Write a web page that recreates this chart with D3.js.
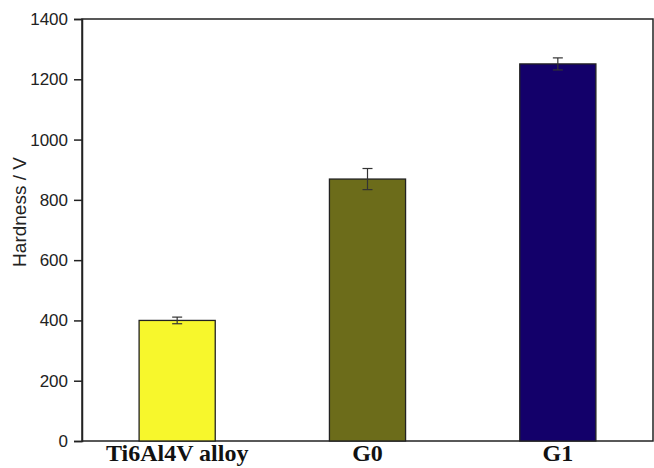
<!DOCTYPE html>
<html><head><meta charset="utf-8">
<script src="https://cdn.jsdelivr.net/npm/d3@7"></script>
<style>html,body{margin:0;padding:0;background:#fff;}</style>
</head><body>
<svg id="c" width="654" height="468"></svg>
<script>
const categories = ["Ti6Al4V alloy", "G0", "G1"];
const hardness = [400, 869, 1251];
const errors = [11, 35, 20];
const colors = ["#f7f72c", "#6c6c1a", "#13006a"];
const yTicks = [0, 200, 400, 600, 800, 1000, 1200, 1400];

const svg = d3.select("#c");
const m = {left: 82, right: 653, top: 19, bottom: 441};
const x = d3.scaleBand().domain(categories).range([m.left, m.right]).paddingInner(0.6).paddingOuter(0.3);
const y = d3.scaleLinear().domain([0, 1400]).range([m.bottom, m.top]);

// frame
svg.append("rect").attr("x", m.left).attr("y", m.top).attr("width", m.right - m.left).attr("height", m.bottom - m.top)
  .attr("fill", "none").attr("stroke", "#222").attr("stroke-width", 1.5);

// bars
svg.selectAll("rect.bar").data(categories).enter().append("rect").attr("class", "bar")
  .attr("x", d => x(d)).attr("width", x.bandwidth())
  .attr("y", (d, i) => y(hardness[i])).attr("height", (d, i) => y(0) - y(hardness[i]))
  .attr("fill", (d, i) => colors[i]).attr("stroke", "#222").attr("stroke-width", 1.3);

// error bars
const eg = svg.append("g").attr("stroke", "#333").attr("stroke-width", 1.2);
categories.forEach((c, i) => {
  const cx = x(c) + x.bandwidth() / 2;
  eg.append("line").attr("x1", cx).attr("x2", cx).attr("y1", y(hardness[i] + errors[i])).attr("y2", y(hardness[i] - errors[i]));
  [hardness[i] + errors[i], hardness[i] - errors[i]].forEach(v => {
    eg.append("line").attr("x1", cx - 5).attr("x2", cx + 5).attr("y1", y(v)).attr("y2", y(v));
  });
});

// y axis
const ya = svg.append("g").attr("transform", `translate(${m.left},0)`)
  .call(d3.axisLeft(y).tickValues(yTicks).tickSize(8).tickPadding(6).tickFormat(d3.format("d")));
ya.select(".domain").attr("stroke", "#222").attr("stroke-width", 1.5);
ya.selectAll(".tick line").attr("stroke", "#222").attr("stroke-width", 1.5);
ya.selectAll("text").attr("font-family", "Liberation Sans, Arial, sans-serif").attr("font-size", 17).attr("fill", "#222");

// x labels
const xa = svg.append("g").attr("transform", `translate(0,${m.bottom})`)
  .call(d3.axisBottom(x).tickSize(0).tickPadding(5));
xa.select(".domain").remove();
xa.selectAll("text").attr("dy", null).attr("y", 20).attr("font-family", "Liberation Serif, Times New Roman, serif").attr("font-weight", "bold")
  .attr("font-size", 24).attr("fill", "#111");

// y title
svg.append("text").attr("transform", `translate(26,212) rotate(-90)`)
  .attr("text-anchor", "middle").attr("font-family", "Liberation Sans, Arial, sans-serif").attr("font-size", 19)
  .attr("fill", "#222").text("Hardness / V");
</script>
</body></html>
